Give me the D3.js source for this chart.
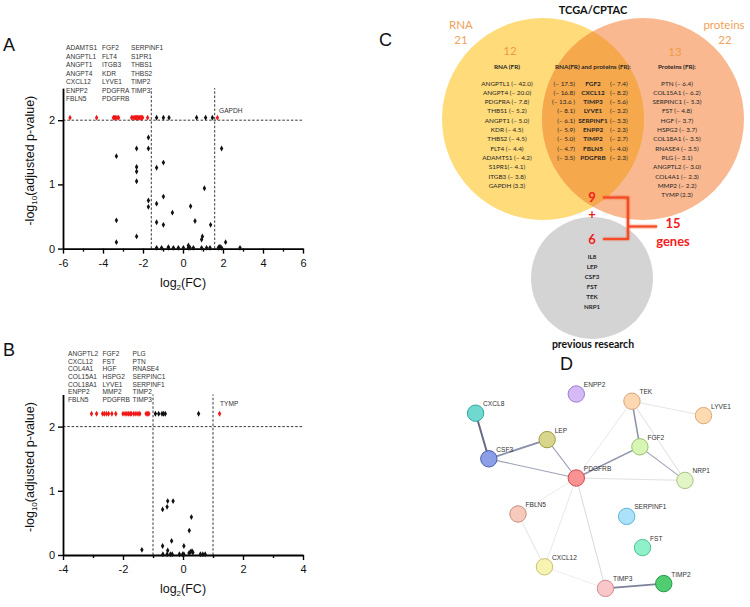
<!DOCTYPE html>
<html>
<head>
<meta charset="utf-8">
<script src="https://cdn.jsdelivr.net/npm/d3@7"></script>
<style>
  body { margin: 0; background: #fff; }
  svg { font-family: "Liberation Sans", Arial, sans-serif; }
  .venn { font-family: Lato, "Open Sans", sans-serif; }
</style>
</head>
<body>
<div id="chart"></div>
<script>
// ---------------- data ----------------
// Panel A: RNA volcano (log2 FC, -log10 adj p)
const aSigFC = [-5.65, -4.32, -3.48, -3.42, -3.36, -3.30, -3.22, -2.57, -2.50, -2.44, -2.38, -2.33,
  -2.28, -2.24, -2.19, -2.14, -2.10, -2.06, -2.02, -1.77, 1.72];
const aSigP = 2.04;
const aTopFC = [-1.32, -0.98, -0.70, 0.68, 1.13, 1.47];
const aOther = [[-1.73,1.73],[-2.32,1.56],[-1.73,1.56],[-3.33,1.44],[-0.98,1.34],[-2.32,1.27],[-1.32,1.26],
  [-2.32,1.20],[-2.32,1.05],[1.07,0.94],[-0.98,0.81],[-1.73,0.75],[-1.32,0.70],[-1.73,0.65],[0.38,0.66],
  [-0.53,0.56],[-3.33,0.44],[0.60,0.43],[-1.32,0.41],[-0.98,0.37],[1.38,0.37],[-2.32,0.19],[0.97,0.19],
  [0.93,0.14],[-3.33,0.10],[2.13,0.10],[1.93,1.56],[0.27,0.05],[-0.73,0.02],[1.80,0.02],[1.85,0.03]];
const aZeroFC = [-1.32, -1.07, -0.73, -0.48, -0.23, 0.02, 0.27, 0.35, 0.52, 0.93, 1.18, 1.35, 1.77, 1.93, 2.85];
const aLabels = [["ADAMTS1","ANGPTL1","ANGPT1","ANGPT4","CXCL12","ENPP2","FBLN5"],
  ["FGF2","FLT4","ITGB3","KDR","LYVE1","PDGFRA","PDGFRB"],
  ["SERPINF1","S1PR1","THBS1","THBS2","TIMP2","TIMP3"]];

// Panel B: protein volcano
const bSigFC = [-3.05, -2.88, -2.68, -2.62, -2.55, -2.48, -2.37, -2.24, -2.00, -1.93, -1.87, -1.81,
  -1.76, -1.72, -1.64, -1.57, -1.50, -1.44, -1.23, -1.18, -1.14, 1.22];
const bSigP = 2.2;
const bTopFC = [-0.92, -0.81, -0.70, -0.65, -0.59, 0.52];
const bOther = [[-1.37,0.08],[-0.68,0.71],[-0.53,0.75],[-0.51,0.84],[-0.33,0.84],[0.28,0.59],[0.21,0.38],
  [-0.38,0.22],[-0.68,0.14],[0.03,0.14],[-0.51,0.07],[0.25,0.05],[0.30,0.06],[0.33,0.04],[0.20,0.03]];
const bZeroFC = [-0.67, -0.53, -0.42, -0.36, -0.12, -0.01, 0.03, 0.58, 0.66, 0.74];
const bLabels = [["ANGPTL2","CXCL12","COL4A1","COL15A1","COL18A1","ENPP2","FBLN5"],
  ["FGF2","FST","HGF","HSPG2","LYVE1","MMP2","PDGFRB"],
  ["PLG","PTN","RNASE4","SERPINC1","SERPINF1","TIMP2","TIMP3"]];

// Panel C: Venn lists
const rnaOnly = ["ANGPTL1 (\u2013 42.0)","ANGPT4 (\u2013 20.0)","PDGFRA (\u2013 7.8)","THBS1 (\u2013 5.2)",
  "ANGPT1 (\u2013 5.0)","KDR (\u2013 4.5)","THBS2 (\u2013 4.5)","FLT4 (\u2013 4.4)","ADAMTS1 (\u2013 4.2)",
  "S1PR1(\u2013 4.1)","ITGB3 (\u2013 3.8)","GAPDH (3.3)"];
const sharedGenes = ["FGF2","CXCL12","TIMP3","LYVE1","SERPINF1","ENPP2","TIMP2","FBLN5","PDGFRB"];
const sharedRna = ["17.5","16.8","13.6 ","8.1","6.1","5.9","5.0","4.7","3.5"];
const sharedProt = ["7.4","8.2","5.6","3.2","3.3","2.3","2.7","4.0","2.3"];
const protOnly = ["PTN (\u2013 6.4)","COL15A1 (\u2013 6.2)","SERPINC1 (\u2013 5.3)","FST (\u2013 4.8)",
  "HGF (\u2013 3.7)","HSPG2 (\u2013 3.7)","COL18A1 (\u2013 3.5)","RNASE4 (\u2013 3.5)","PLG (\u2013 3.1)",
  "ANGPTL2 (\u2013 3.0)","COL4A1 (\u2013 2.3)","MMP2 (\u2013 2.2)","TYMP (2.3)"];
const prevGenes = ["IL8","LEP","CSF3","FST","TEK","NRP1"];

// Panel D: STRING network (layout units)
const netNodes = [
  {id:"CXCL8", x:4, y:13, fill:"#6fd9d0", stroke:"#2fa89e"},
  {id:"ENPP2", x:42, y:5, fill:"#d5baf6", stroke:"#9b7dd2"},
  {id:"TEK", x:63, y:8, fill:"#fdd6b2", stroke:"#d8a37c"},
  {id:"LYVE1", x:90, y:14, fill:"#fddab0", stroke:"#d9aa7a"},
  {id:"LEP", x:31, y:24, fill:"#d8d58c", stroke:"#9e9b42"},
  {id:"FGF2", x:66, y:27, fill:"#d8f6b3", stroke:"#99c274"},
  {id:"CSF3", x:9, y:32, fill:"#8b9ee6", stroke:"#4a5db2"},
  {id:"PDGFRB", x:42, y:40, fill:"#f99292", stroke:"#d04a4a"},
  {id:"NRP1", x:83, y:41, fill:"#e3f5c6", stroke:"#a7c283"},
  {id:"FBLN5", x:20, y:55, fill:"#f8cabb", stroke:"#c98e7e"},
  {id:"SERPINF1", x:61, y:56, fill:"#aae2fa", stroke:"#60b1d9"},
  {id:"FST", x:67, y:69, fill:"#90f0ca", stroke:"#4ac293"},
  {id:"CXCL12", x:30, y:77, fill:"#f7f3b0", stroke:"#c9c172"},
  {id:"TIMP3", x:53, y:86, fill:"#f9c6c9", stroke:"#d18a92"},
  {id:"TIMP2", x:75, y:84, fill:"#50cd70", stroke:"#239a46"}
];
const netEdges = [
  ["CXCL8","CSF3",2.0,"#666b88"],["CSF3","LEP",1.8,"#8a8fa8"],["CSF3","PDGFRB",1.2,"#9ea2b8"],
  ["LEP","PDGFRB",1.2,"#9ea2b8"],["PDGFRB","FGF2",1.5,"#8e93ab"],["TEK","FGF2",1.5,"#8a8fa8"],
  ["FGF2","NRP1",1.1,"#a4a8bb"],["TEK","NRP1",0.8,"#d4d4dc"],["TEK","LYVE1",0.8,"#dedede"],
  ["TEK","PDGFRB",0.8,"#e2e2e2"],["PDGFRB","NRP1",0.9,"#dcdce2"],["PDGFRB","FBLN5",0.8,"#e6e6e6"],
  ["PDGFRB","CXCL12",0.8,"#e2e2e2"],["PDGFRB","TIMP3",0.9,"#d2d2da"],["FBLN5","CXCL12",0.8,"#dcdcdc"],
  ["CXCL12","TIMP3",0.8,"#e8e8e8"],["TIMP3","TIMP2",1.8,"#7c8199"]
];

// ---------------- svg ----------------
const svg = d3.select("#chart").append("svg").attr("width", 750).attr("height", 607);

const panelLetter = (t, x, y) => svg.append("text").attr("x", x).attr("y", y)
  .attr("font-size", 18).attr("fill", "#111").text(t);
panelLetter("A", 3, 51);
panelLetter("B", 3, 356);
panelLetter("C", 379, 46);
panelLetter("D", 560, 370);

function volcano(cfg) {
  const x = d3.scaleLinear().domain(cfg.xDomain).range([63, 303]);
  const y = d3.scaleLinear().domain([0, 2.5]).range([cfg.y0, cfg.y0 - 2.5 * 64.2]);
  const g = svg.append("g");

  // threshold lines
  g.append("line").attr("x1", x(cfg.xDomain[0])).attr("x2", x(cfg.xDomain[1]))
    .attr("y1", y(2)).attr("y2", y(2))
    .attr("stroke", "#222").attr("stroke-width", 0.9).attr("stroke-dasharray", "2.5,1.8");
  cfg.vlines.forEach(v => g.append("line").attr("x1", x(v)).attr("x2", x(v))
    .attr("y1", y(0)).attr("y2", y(2.5))
    .attr("stroke", "#222").attr("stroke-width", 0.9).attr("stroke-dasharray", "2.5,1.8"));

  // axes
  const minor = d3.range(cfg.xDomain[0], cfg.xDomain[1] + 1, 1).filter(v => v % 2 !== 0);
  g.append("g").attr("transform", `translate(0,${y(0)})`)
    .call(d3.axisBottom(x).tickValues(minor).tickSize(3).tickFormat(""))
    .call(a => a.select(".domain").remove())
    .selectAll("line").attr("stroke-width", 1.4);
  const xa = g.append("g").attr("transform", `translate(0,${y(0)})`)
    .call(d3.axisBottom(x).tickValues(d3.range(cfg.xDomain[0], cfg.xDomain[1] + 1, 2)).tickSize(5).tickSizeOuter(0).tickFormat(d3.format("d")));
  xa.select(".domain").attr("stroke-width", 1.8);
  xa.selectAll("line").attr("stroke-width", 1.4);
  xa.selectAll("text").attr("font-size", 11).attr("fill", "#111").attr("dy", "0.95em")
    .text(d => d < 0 ? "-" + Math.abs(d) : d);
  const ya = g.append("g").attr("transform", `translate(63,0)`)
    .call(d3.axisLeft(y).tickValues([0, 1, 2]).tickSize(5).tickSizeOuter(0).tickFormat(d3.format("d")));
  ya.select(".domain").attr("stroke-width", 1.8);
  ya.selectAll("line").attr("stroke-width", 1.4);
  ya.selectAll("text").attr("font-size", 11).attr("fill", "#111");

  // titles
  const xt = g.append("text").attr("x", x(0)).attr("y", y(0) + 38).attr("text-anchor", "middle")
    .attr("font-size", 12.5).attr("fill", "#111");
  xt.append("tspan").text("log");
  xt.append("tspan").attr("font-size", 8).attr("dy", 3).text("2");
  xt.append("tspan").attr("dy", -3).text("(FC)");
  const yt = g.append("text").attr("transform", `translate(34,${y(1.37)}) rotate(-90)`)
    .attr("text-anchor", "middle").attr("font-size", 12.5).attr("fill", "#111");
  yt.append("tspan").text("-log");
  yt.append("tspan").attr("font-size", 8).attr("dy", 3).text("10");
  yt.append("tspan").attr("dy", -3).text("(adjusted p-value)");

  // points
  const sym = d3.symbol().type(d3.symbolDiamond).size(10);
  const pts = [];
  cfg.other.forEach(d => pts.push({fc: d[0], p: d[1], c: "#111"}));
  cfg.zero.forEach(fc => pts.push({fc, p: 0.012, c: "#111"}));
  cfg.top.forEach(fc => pts.push({fc, p: cfg.sigP, c: "#111"}));
  cfg.sig.forEach(fc => pts.push({fc, p: cfg.sigP, c: "#f01818"}));
  g.selectAll("path.pt").data(pts).enter().append("path").attr("class", "pt")
    .attr("d", sym).attr("fill", d => d.c)
    .attr("transform", d => `translate(${x(d.fc)},${y(d.p)})`);

  // gene labels
  cfg.labels.forEach((col, ci) => {
    col.forEach((t, i) => g.append("text").attr("x", cfg.labelX[ci]).attr("y", cfg.labelY + i * cfg.labelDy)
      .attr("font-size", 6.6).attr("fill", "#333").text(t));
  });
  g.append("text").attr("x", cfg.extra[1]).attr("y", cfg.extra[2]).attr("font-size", 6.6)
    .attr("fill", "#333").text(cfg.extra[0]);
}

volcano({xDomain: [-6, 6], y0: 248.6, vlines: [-1.585, 1.585], sig: aSigFC, sigP: aSigP, top: aTopFC,
  other: aOther, zero: aZeroFC, labels: aLabels, labelX: [66, 102, 131], labelY: 50, labelDy: 8.5,
  extra: ["GAPDH", 219, 113]});
volcano({xDomain: [-4, 4], y0: 555, vlines: [-1, 1], sig: bSigFC, sigP: bSigP, top: bTopFC,
  other: bOther, zero: bZeroFC, labels: bLabels, labelX: [68, 102.5, 132.5], labelY: 356, labelDy: 7.65,
  extra: ["TYMP", 220, 406]});

// ---------------- panel C ----------------
const venn = svg.append("g").attr("class", "venn");
const rY = 101, cY = 119, cxL = 543, cxR = 643;
const defs = svg.append("defs");
defs.append("clipPath").attr("id", "clipL").append("circle").attr("cx", cxL).attr("cy", cY).attr("r", rY);
const glow = defs.append("filter").attr("id", "glow").attr("x", "-20%").attr("y", "-20%").attr("width", "140%").attr("height", "140%");
glow.append("feGaussianBlur").attr("stdDeviation", 1.3).attr("result", "b");
const fm = glow.append("feMerge");
fm.append("feMergeNode").attr("in", "b");
fm.append("feMergeNode").attr("in", "SourceGraphic");

venn.append("circle").attr("cx", cxL).attr("cy", cY).attr("r", rY).attr("fill", "#ffdb7a");
venn.append("circle").attr("cx", cxR).attr("cy", cY).attr("r", rY).attr("fill", "#f9b890");
venn.append("circle").attr("cx", cxR).attr("cy", cY).attr("r", rY).attr("fill", "#f6a84c")
  .attr("clip-path", "url(#clipL)");
venn.append("circle").attr("cx", 592).attr("cy", 278).attr("r", 61).attr("fill", "#d4d4d4");

const vt = (t, x, y, o) => venn.append("text").attr("x", x).attr("y", y)
  .attr("text-anchor", (o && o.anchor) || "middle").attr("font-size", (o && o.size) || 6.4)
  .attr("font-weight", (o && o.bold) ? "bold" : "normal").attr("fill", (o && o.fill) || "#262626").text(t);

vt("TCGA/CPTAC", 593, 14, {size: 11, bold: true, fill: "#111"});
vt("RNA", 461, 29, {size: 11.5, fill: "#f0a258"});
vt("21", 461, 44, {size: 11.5, fill: "#f0a258"});
vt("proteins", 724, 29, {size: 11.5, fill: "#f0a258"});
vt("22", 725, 44, {size: 11.5, fill: "#f0a258"});
vt("12", 510, 55, {size: 11.5, fill: "#f09a4a"});
vt("13", 675, 56, {size: 11.5, fill: "#f09a4a"});
vt("RNA (FR)", 507, 69, {bold: true});
vt("RNA(FR) and proteins (FR):", 593, 69, {bold: true});
vt("Proteins (FR):", 677, 69, {bold: true});

const lineY = d3.scaleLinear().domain([0, 1]).range([85.5, 94.8]);
rnaOnly.forEach((t, i) => vt(t, 507, lineY(i)));
protOnly.forEach((t, i) => vt(t, 677, lineY(i)));
sharedGenes.forEach((t, i) => {
  vt("(\u2013 " + sharedRna[i] + ")", 575, lineY(i), {anchor: "end"});
  vt(t, 593, lineY(i), {bold: true});
  vt("(\u2013 " + sharedProt[i] + ")", 610, lineY(i), {anchor: "start"});
});

const prevY = d3.scaleLinear().domain([0, 1]).range([259, 269]);
prevGenes.forEach((t, i) => vt(t, 592, prevY(i), {bold: true, size: 6.2}));
vt("previous research", 593, 348, {size: 10.5, bold: true, fill: "#111"});

vt("9", 592, 202, {size: 13, bold: true, fill: "#f41c1c"});
vt("+", 592, 219, {size: 13, bold: true, fill: "#f41c1c"});
vt("6", 592, 244, {size: 13, bold: true, fill: "#f41c1c"});
vt("15", 673, 228, {size: 13, bold: true, fill: "#f41c1c"});
vt("genes", 673, 246, {size: 13, bold: true, fill: "#f41c1c"});
venn.append("path").attr("d", "M603,197.5 H628 V239 H603 M628,226.5 H657")
  .attr("fill", "none").attr("stroke", "#f24b25").attr("stroke-width", 2.2).attr("filter", "url(#glow)");

// ---------------- panel D ----------------
const nx = d3.scaleLinear().domain([0, 100]).range([465, 730]);
const ny = d3.scaleLinear().domain([0, 100]).range([382, 622]);
const byId = new Map(netNodes.map(d => [d.id, d]));
const net = svg.append("g");
net.selectAll("line").data(netEdges).enter().append("line")
  .attr("x1", d => nx(byId.get(d[0]).x)).attr("y1", d => ny(byId.get(d[0]).y))
  .attr("x2", d => nx(byId.get(d[1]).x)).attr("y2", d => ny(byId.get(d[1]).y))
  .attr("stroke", d => d[3]).attr("stroke-width", d => d[2]);
net.selectAll("circle").data(netNodes).enter().append("circle")
  .attr("cx", d => nx(d.x)).attr("cy", d => ny(d.y)).attr("r", 8.2)
  .attr("fill", d => d.fill).attr("stroke", d => d.stroke).attr("stroke-width", 1);
net.selectAll("text").data(netNodes).enter().append("text")
  .attr("x", d => nx(d.x) + 7.5).attr("y", d => ny(d.y) - 7)
  .attr("font-size", 6.6).attr("fill", "#333").text(d => d.id);
</script>
</body>
</html>
